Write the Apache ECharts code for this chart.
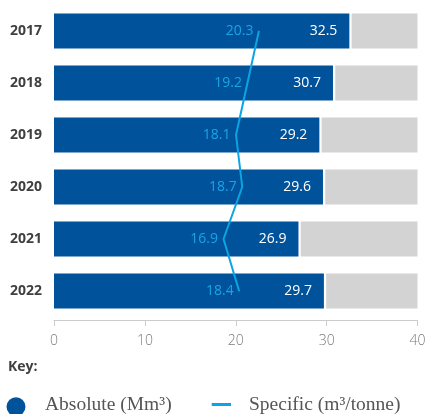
<!DOCTYPE html>
<html>
<head>
<meta charset="utf-8">
<script src="https://cdn.jsdelivr.net/npm/echarts@6/dist/echarts.min.js"></script>
<style>
  html, body { margin: 0; padding: 0; background: #fff; }
  #chart { width: 432px; height: 414px; }
</style>
</head>
<body>
<div id="chart"></div>
<script>
// Water withdrawal by year
const years = ['2017', '2018', '2019', '2020', '2021', '2022'];
const absolute = [32.5, 30.7, 29.2, 29.6, 26.9, 29.7];   // Mm³
const specific = [20.3, 19.2, 18.1, 18.7, 16.9, 18.4];   // m³/tonne
const xTicks = [0, 10, 20, 30, 40];

const AXIS_MAX = 40;
const GAP = 0.25;
const BLUE = '#00539b';
const CYAN = '#0aa5e2';
const GREY = '#d3d3d3';

const chart = echarts.init(document.getElementById('chart'));

chart.setOption({
  animation: false,
  grid: { left: 54, right: 14.5, top: 5, bottom: 97, containLabel: false },
  xAxis: [
    {
      type: 'value',
      min: xTicks[0],
      max: xTicks[xTicks.length - 1],
      interval: xTicks[1] - xTicks[0],
      offset: 3,
      splitLine: { show: false },
      axisLine: { show: true, lineStyle: { color: '#cccccc', width: 1 } },
      axisTick: { show: true, length: 6, lineStyle: { color: '#cccccc' } },
      axisLabel: {
        margin: 14,
        color: '#7a7a7a',
        fontFamily: 'Open Sans',
        fontWeight: 300,
        fontSize: 14
      }
    },
    {
      // scale used by the specific-consumption line
      type: 'value',
      min: 0.6,
      max: 35.55,
      show: false
    }
  ],
  yAxis: {
    type: 'category',
    data: years,
    inverse: true,
    axisLine: { show: false },
    axisTick: { show: false },
    axisLabel: {
      margin: 12,
      color: '#404040',
      fontFamily: 'Open Sans',
      fontWeight: 'bold',
      fontSize: 14
    }
  },
  series: [
    {
      name: 'Absolute (Mm³)',
      type: 'bar',
      stack: 'total',
      barWidth: 35,
      data: absolute,
      itemStyle: { color: BLUE },
      label: {
        show: true,
        position: 'insideRight',
        distance: 12,
        color: '#ffffff',
        fontFamily: 'Open Sans',
        fontSize: 14
      },
      z: 2
    },
    {
      name: 'gap',
      type: 'bar',
      stack: 'total',
      silent: true,
      data: absolute.map(() => GAP),
      itemStyle: { color: 'rgba(0,0,0,0)' }
    },
    {
      name: 'remainder',
      type: 'bar',
      stack: 'total',
      silent: true,
      data: absolute.map(v => AXIS_MAX - v - GAP),
      itemStyle: { color: GREY }
    },
    {
      name: 'Specific (m³/tonne)',
      type: 'line',
      xAxisIndex: 1,
      data: specific,
      symbol: 'circle',
      symbolSize: 1,
      showSymbol: true,
      lineStyle: { color: CYAN, width: 2 },
      itemStyle: { color: CYAN },
      label: {
        show: true,
        position: 'left',
        distance: 5,
        color: '#1aa3e6',
        fontFamily: 'Open Sans',
        fontSize: 14
      },
      z: 5
    }
  ],
  graphic: [
    {
      type: 'text',
      left: 8,
      top: 360,
      style: {
        text: 'Key:',
        fill: '#404040',
        font: 'bold 14px "Open Sans"'
      }
    },
    {
      type: 'circle',
      shape: { cx: 16, cy: 406.8, r: 9.5 },
      style: { fill: BLUE }
    },
    {
      type: 'text',
      x: 45,
      y: 405,
      style: {
        text: 'Absolute (Mm³)',
        fill: '#555555',
        font: '19.5px "Liberation Serif"',
        verticalAlign: 'middle'
      }
    },
    {
      type: 'line',
      shape: { x1: 211.7, y1: 404.5, x2: 231, y2: 404.5 },
      style: { stroke: CYAN, lineWidth: 3 }
    },
    {
      type: 'text',
      x: 249,
      y: 405,
      style: {
        text: 'Specific (m³/tonne)',
        fill: '#555555',
        font: '19.5px "Liberation Serif"',
        verticalAlign: 'middle'
      }
    }
  ]
});
</script>
</body>
</html>
